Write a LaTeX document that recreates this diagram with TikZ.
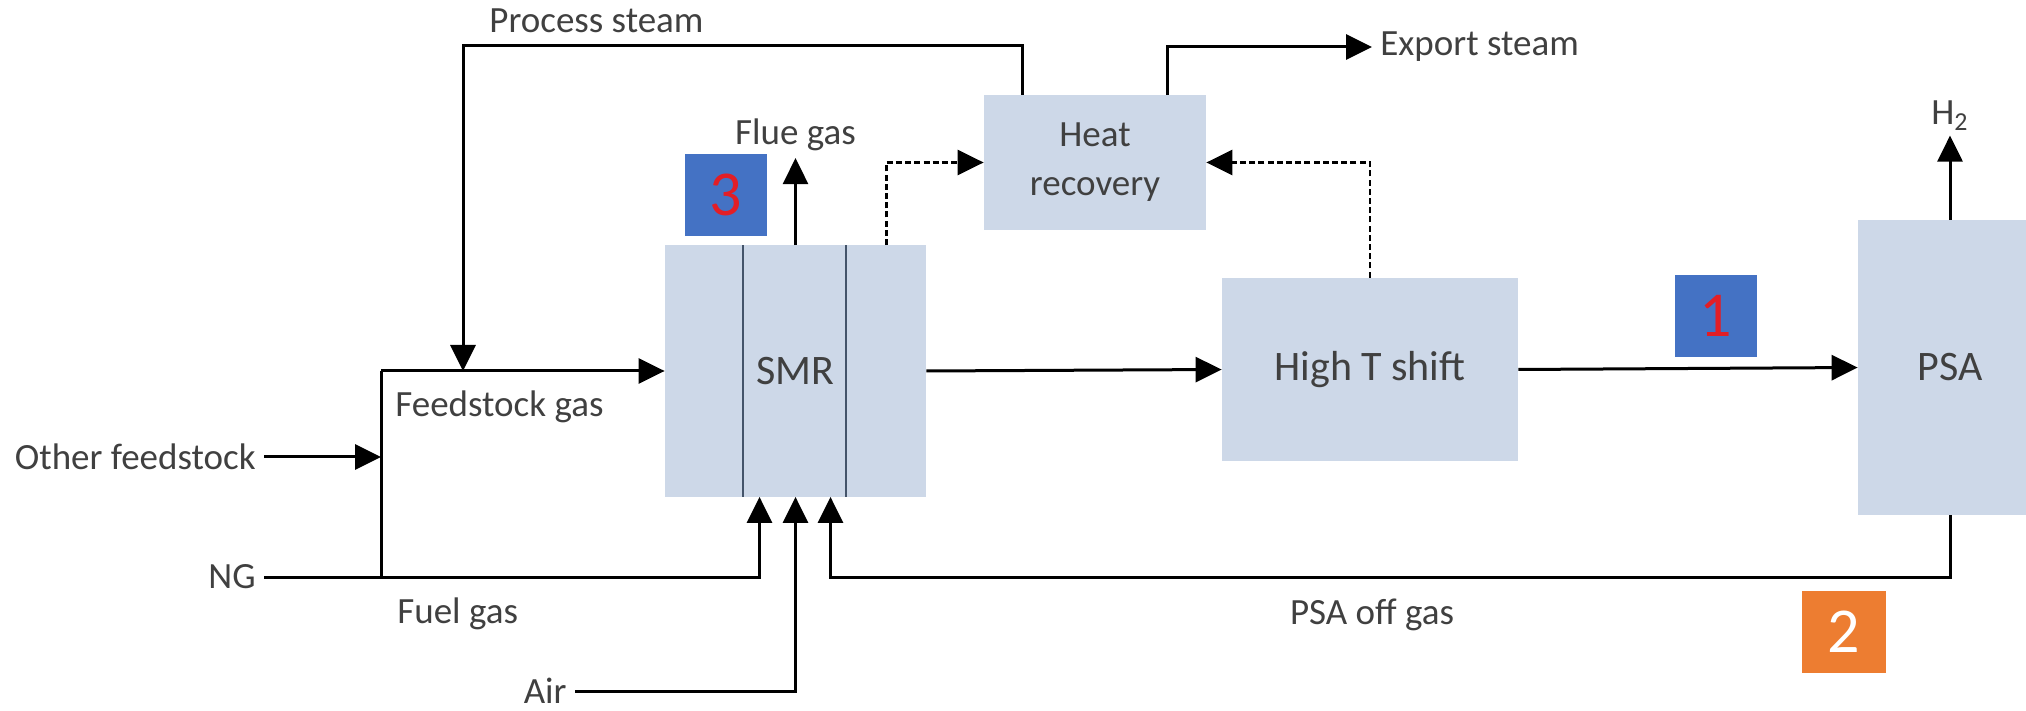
\documentclass[tikz,border=0pt]{standalone}
\usepackage{fontspec}
\setmainfont{Carlito}
\usepackage{tikz}
\usetikzlibrary{arrows.meta,positioning,calc}
\definecolor{unitfill}{RGB}{205,216,232}
\definecolor{tagblue}{RGB}{68,114,196}
\definecolor{tagorange}{RGB}{237,125,49}
\definecolor{tagred}{RGB}{226,30,38}
\definecolor{txtgray}{RGB}{64,64,64}
\definecolor{slate}{RGB}{68,84,106}

\begin{document}
\begin{tikzpicture}[
      x=0.5pt, y=-0.5pt,
      >={Triangle[length=13pt,width=12.5pt]},
      font=\fontsize{18.5}{22}\selectfont, text=txtgray,
      unit/.style={fill=unitfill, inner sep=0pt, font=\fontsize{21}{25}\selectfont},
      lbl/.style={inner sep=4pt},
      flow/.style={->, line width=1.5pt},
      pipe/.style={line width=1.5pt},
      heatflow/.style={->, line width=1.3pt, dash pattern=on 3pt off 1.6pt},
      tag/.style={minimum width=41pt, minimum height=41pt, inner sep=0pt,
                  font=\fontsize{32}{36}\selectfont},
    ]
    \useasboundingbox (0,0) rectangle (2026,711);

    \node[unit, minimum width=130.5pt, minimum height=125.5pt] (smr) at (795.5,371) {SMR};
    \node[unit, minimum width=148pt, minimum height=91.5pt] (hts) at (1370,369.5) {High T shift};
    \node[unit, minimum width=111pt, minimum height=67.5pt, align=center,
          font=\fontsize{18.5}{24.5}\selectfont] (hr) at (1095,162.5) {Heat\\recovery};
    \node[unit, minimum width=92pt, minimum height=147.5pt] (psa) at (1950,367.5) {PSA};

    % reformer tubes
    \draw[slate, line width=1pt] ([xshift=-26.25pt]smr.north) -- ([xshift=-26.25pt]smr.south);
    \draw[slate, line width=1pt] ([xshift=25.25pt]smr.north) -- ([xshift=25.25pt]smr.south);

    \node[tag, fill=tagblue, text=tagred] (t3) at (726,195) {3};
    \node[tag, fill=tagblue, text=tagred] (t1) at (1716,316) {1};
    \node[tag, fill=tagorange, text=white, minimum width=42pt] (t2) at (1844,632) {2};

    \node[lbl, anchor=east] (other) at (264,457) {Other feedstock};
    \node[lbl, anchor=east] (ng) at (264,577) {NG};
    \node[lbl, anchor=east] (air) at (575,691) {Air};
    \node[lbl, anchor=west] (feedlbl) at (387,407) {Feedstock gas};
    \node[lbl, anchor=west] (fuellbl) at (389,614) {Fuel gas};
    \node[lbl, anchor=west] (steamlbl) at (481,21) {Process steam};
    \node[lbl, anchor=west] (export) at (1372,47) {Export steam};
    \node[lbl] (offlbl) at (1372,615) {PSA off gas};

    \coordinate (mix) at (381,371);
    \coordinate (steamtop) at (463,46);
    \coordinate (offin) at ([xshift=17.5pt]smr.south);

    \draw[pipe] (ng.east) -| (mix);
    \draw[flow] (mix) -- (smr.west);
    \draw[flow] (other.east) -- (other.east -| mix);
    \draw[flow] (ng.east) -| ([xshift=-18pt]smr.south);
    \draw[flow] (air.east) -| (smr.south);
    \draw[flow] (psa.south) |- (offin |- ng.east) -- (offin);

    \draw[flow] ([xshift=-36.5pt]hr.north) |- (steamtop) -- (steamtop |- mix);
    \draw[flow] ([xshift=36pt]hr.north) |- (export.west);
    \draw[flow] (smr.north) -- ++(0,-87) node[above, inner sep=3pt] (flue) {Flue gas};
    \draw[heatflow] ([xshift=45.5pt]smr.north) |- (hr.west);
    \draw[heatflow] (hts.north) |- (hr.east);

    \draw[flow] (smr.east) -- (hts.west);
    \draw[flow] (hts.east) -- (psa.west);
    \draw[flow] (psa.north) -- ++(0,-84) node[above, inner sep=2pt] (h2) {H\textsubscript{2}};
  \end{tikzpicture}
\end{document}
